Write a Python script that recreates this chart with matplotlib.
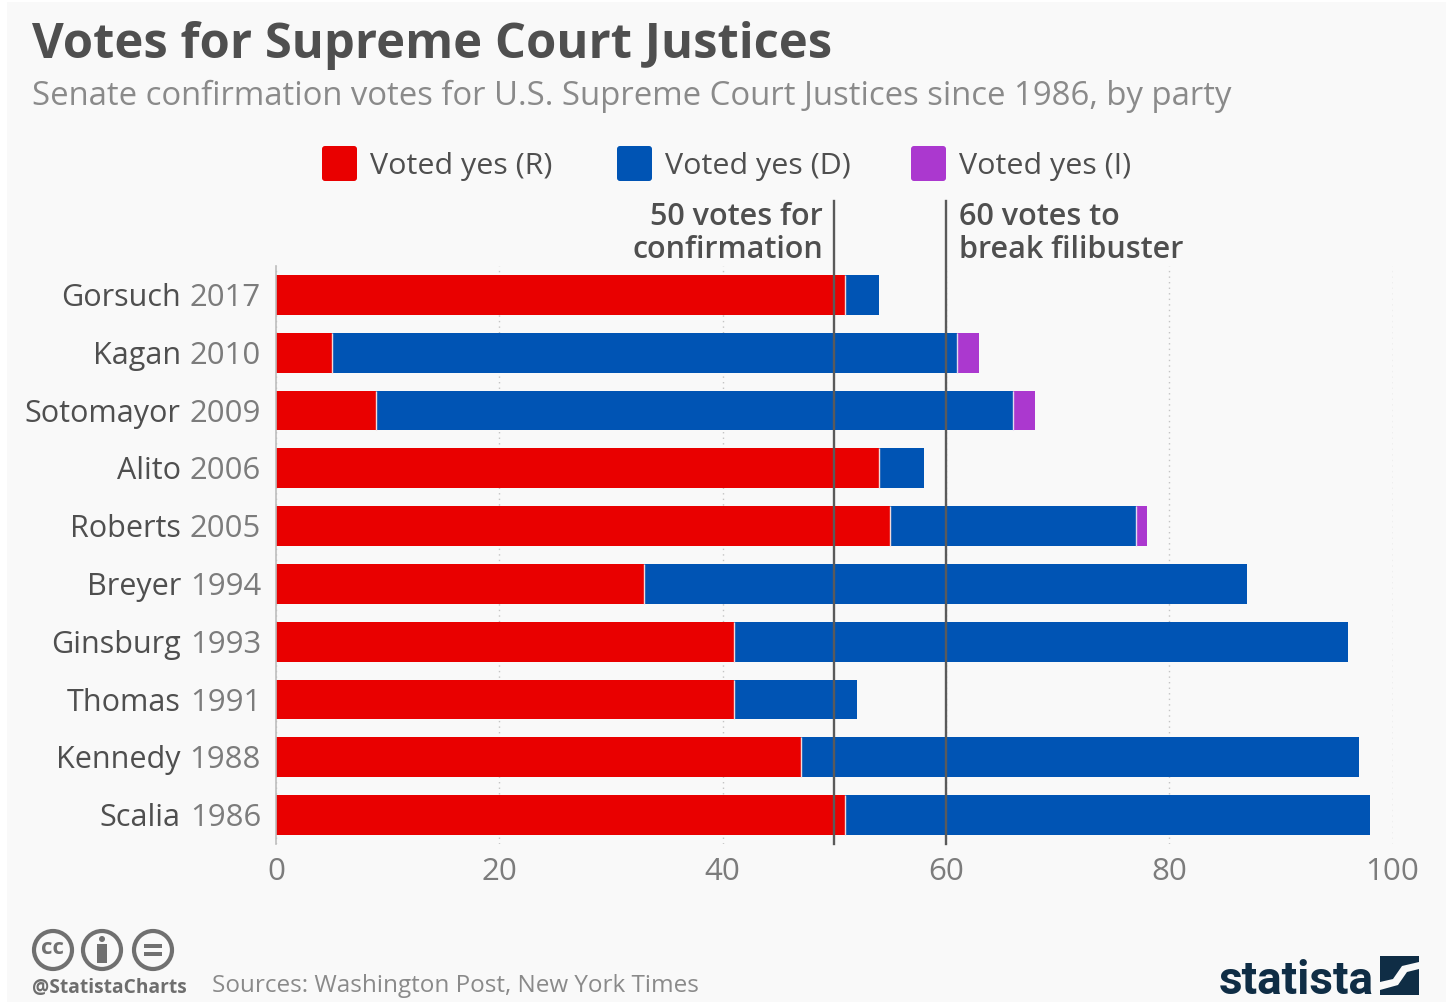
import matplotlib
matplotlib.use("Agg")
import matplotlib.pyplot as plt
from matplotlib.patches import FancyBboxPatch, Circle, Rectangle, Polygon

plt.rcParams['font.family'] = ['Open Sans', 'DejaVu Sans']

names = ["Gorsuch", "Kagan", "Sotomayor", "Alito", "Roberts", "Breyer", "Ginsburg", "Thomas", "Kennedy", "Scalia"]
years = ["2017", "2010", "2009", "2006", "2005", "1994", "1993", "1991", "1988", "1986"]
yes_r = [51, 5, 9, 54, 55, 33, 41, 41, 47, 51]
yes_d = [3, 56, 57, 4, 22, 54, 55, 11, 50, 47]
yes_i = [0, 2, 2, 0, 1, 0, 0, 0, 0, 0]
ticks = [0, 20, 40, 60, 80, 100]

RED = "#e90000"
BLUE = "#0054b4"
PURPLE = "#ab38cf"
GREY = "#4f4f4f"
LIGHT = "#7c7c7c"
W, H = 1448, 1002

fig = plt.figure(figsize=(W / 100, H / 100), dpi=100, facecolor="white")

# overlay in pixel coordinates for everything outside the plot
bg = fig.add_axes([0, 0, 1, 1], zorder=0)
bg.set_xlim(0, W)
bg.set_ylim(H, 0)
bg.axis("off")
bg.add_patch(Rectangle((7, 2), W - 9, H, fc="#f9f9f9", ec="none"))

x0, x1 = 276, 1392.5
top, bottom = 266, 844
ax = fig.add_axes([x0 / W, 1 - bottom / H, (x1 - x0) / W, (bottom - top) / H], zorder=1)
ax.patch.set_alpha(0)
ax.set_xlim(0, 100)
ax.set_ylim(9.5, -0.5)

pos = list(range(len(names)))
left_d = yes_r
left_i = [r + d for r, d in zip(yes_r, yes_d)]
bar_h = 0.69
ax.barh(pos, yes_r, height=bar_h, color=RED, zorder=2)
ax.barh(pos, yes_d, left=left_d, height=bar_h, color=BLUE, zorder=2)
ax.barh(pos, yes_i, left=left_i, height=bar_h, color=PURPLE, zorder=2)

# thin pale seam between the segments
for p, l, i, e in zip(pos, left_d, yes_i, left_i):
    ax.vlines(l, p - bar_h / 2, p + bar_h / 2, color="#f3d9d9", lw=1, zorder=3)
    if i > 0:
        ax.vlines(e, p - bar_h / 2, p + bar_h / 2, color="#e3d9f0", lw=1, zorder=3)

ax.xaxis.grid(True, color="#c4c4c4", linestyle=(0, (1, 3)), linewidth=1, zorder=1)
ax.set_axisbelow(True)
for s in ["top", "right", "bottom"]:
    ax.spines[s].set_visible(False)
ax.spines["left"].set_color("#bdbdbd")
ax.spines["left"].set_linewidth(1.2)
ax.set_xticks(ticks)
ax.set_yticks(pos)
ax.set_yticklabels([])
ax.tick_params(axis="x", length=0, labelsize=22.5, labelcolor=LIGHT, pad=9)
ax.tick_params(axis="y", length=0)

# reference lines run above the plot, up to the notes
for v in [50, 60]:
    ax.plot([v, v], [9.5, -1.63], color="#5a5a5a", lw=1.7, zorder=4, clip_on=False)
note = dict(va="center", fontsize=22, color=GREY, fontweight="semibold")
ax.text(49, -1.35, "50 votes for", ha="right", **note)
ax.text(49, -0.77, "confirmation", ha="right", **note)
ax.text(61.2, -1.35, "60 votes to", ha="left", **note)
ax.text(61.2, -0.77, "break filibuster", ha="left", **note)

# row labels: year next to the axis, name hung off the year
for p, n, y in zip(pos, names, years):
    t = ax.annotate(y, (0, p), xytext=(-15, -3), textcoords="offset pixels", ha="right", va="center",
                    fontsize=22.4, color=LIGHT)
    ax.annotate(n, (0, 0), xycoords=t, xytext=(-9, 0), textcoords="offset pixels", ha="right", va="bottom",
                fontsize=22, color=GREY)

# title block
bg.text(32, 45, "Votes for Supreme Court Justices", fontsize=35.2, fontweight="bold", color=GREY, va="center")
bg.text(32, 96, "Senate confirmation votes for U.S. Supreme Court Justices since 1986, by party",
        fontsize=23.7, color="#8a8a8a", va="center")

# legend
leg = [(322, RED, "Voted yes (R)"), (617, BLUE, "Voted yes (D)"), (911, PURPLE, "Voted yes (I)")]
for lx, c, lab in leg:
    bg.add_patch(FancyBboxPatch((lx + 3, 149), 29, 29, boxstyle="round,pad=3", fc=c, ec="none"))
    bg.text(lx + 48, 166, lab, fontsize=21.9, color=GREY, va="center")

# cc icons
ICON = "#707070"
for cx in [53, 102, 153]:
    bg.add_patch(Circle((cx, 950), 19, fc="none", ec=ICON, lw=3))
bg.text(53, 949, "cc", ha="center", va="center", fontsize=16, fontweight="bold", color=ICON)
bg.add_patch(Circle((102, 939), 3, fc=ICON, ec="none"))
bg.add_patch(Rectangle((97, 944), 10, 19, fc=ICON, ec="none"))
bg.add_patch(Rectangle((144, 944), 18, 4, fc=ICON, ec="none"))
bg.add_patch(Rectangle((144, 952), 18, 4, fc=ICON, ec="none"))

bg.text(32, 988, "@StatistaCharts", fontsize=13.8, fontweight="bold", color="#6e6e6e", va="center")
bg.text(212, 986, "Sources: Washington Post, New York Times", fontsize=17.5, color="#8a8a8a", va="center")

# statista logo
NAVY = "#0f2d45"
bg.text(1219, 994, "statista", fontsize=33, fontweight="bold", color=NAVY, va="baseline",
        family=["Roboto", "Open Sans"])
bg.add_patch(Rectangle((1380, 956), 39, 39, fc=NAVY, ec="none"))
bg.add_patch(Polygon([(1380, 982), (1393, 979), (1402, 966), (1419, 962), (1419, 969), (1407, 972),
                      (1398, 985), (1380, 990)], fc="#f9f9f9", ec="none"))

fig.savefig("out.png", dpi=100, facecolor=fig.get_facecolor())
